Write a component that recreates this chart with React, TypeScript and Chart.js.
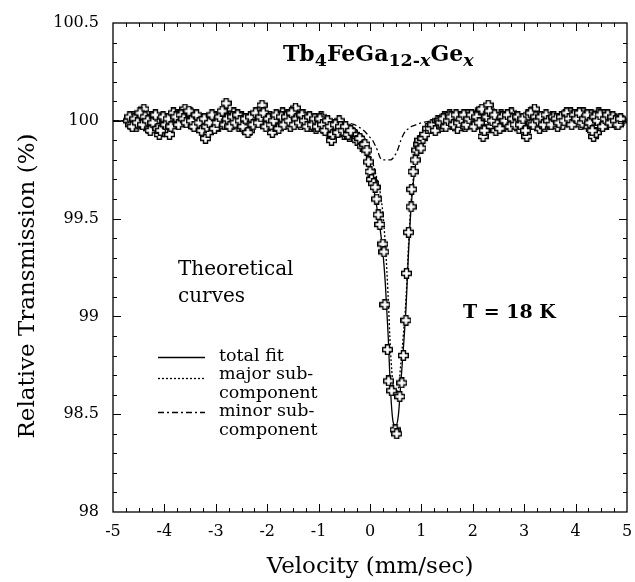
import React, { useEffect, useRef } from 'react';
import { Chart, registerables } from 'chart.js';

Chart.register(...registerables);

// Measured spectrum (velocity in mm/s, relative transmission in %)
const velocity = [
  -4.70, -4.65, -4.60, -4.55, -4.50, -4.45, -4.40, -4.35, -4.30, -4.25,
  -4.20, -4.15, -4.10, -4.05, -4.00, -3.95, -3.90, -3.85, -3.80, -3.75,
  -3.70, -3.65, -3.60, -3.55, -3.50, -3.45, -3.40, -3.35, -3.30, -3.25,
  -3.20, -3.15, -3.10, -3.05, -3.00, -2.95, -2.90, -2.85, -2.80, -2.75,
  -2.70, -2.65, -2.60, -2.55, -2.50, -2.45, -2.40, -2.35, -2.30, -2.25,
  -2.20, -2.15, -2.10, -2.05, -2.00, -1.95, -1.90, -1.85, -1.80, -1.75,
  -1.70, -1.65, -1.60, -1.55, -1.50, -1.45, -1.40, -1.35, -1.30, -1.25,
  -1.20, -1.15, -1.10, -1.05, -1.00, -0.95, -0.90, -0.85, -0.80, -0.75,
  -0.70, -0.65, -0.60, -0.55, -0.50, -0.45, -0.40, -0.35,
  -0.30, -0.25, -0.20, -0.15, -0.10, -0.06, -0.03, 0.00, 0.03, 0.07,
  0.10, 0.13, 0.16, 0.19, 0.25, 0.27, 0.29, 0.34, 0.36, 0.42,
  0.49, 0.52, 0.58, 0.62, 0.65, 0.70, 0.71, 0.75, 0.80, 0.81,
  0.84, 0.88, 0.91, 0.95, 0.97, 0.99, 1.03, 1.07, 1.12, 1.17,
  1.22, 1.27, 1.32, 1.36,
  1.40, 1.45, 1.50, 1.55, 1.60, 1.65, 1.70, 1.75, 1.80, 1.85,
  1.90, 1.95, 2.00, 2.05, 2.10, 2.15, 2.20, 2.25, 2.30, 2.35,
  2.40, 2.45, 2.50, 2.55, 2.60, 2.65, 2.70, 2.75, 2.80, 2.85,
  2.90, 2.95, 3.00, 3.05, 3.10, 3.15, 3.20, 3.25, 3.30, 3.35,
  3.40, 3.45, 3.50, 3.55, 3.60, 3.65, 3.70, 3.75, 3.80, 3.85,
  3.90, 3.95, 4.00, 4.05, 4.10, 4.15, 4.20, 4.25, 4.30, 4.35,
  4.40, 4.45, 4.50, 4.55, 4.60, 4.65, 4.70, 4.75, 4.80, 4.85,
  4.90,
];

const transmission = [
  100.00, 99.98, 100.02, 99.97, 100.01, 100.03, 100.06, 99.99, 99.96, 100.02,
  99.98, 100.00, 99.93, 99.97, 100.01, 99.98, 99.93, 100.02, 99.99, 100.03,
  100.00, 100.04, 100.06, 100.02, 100.04, 99.98, 100.01, 99.97, 100.00, 99.96,
  99.91, 99.94, 100.01, 99.98, 100.02, 99.97, 100.01, 100.03, 100.09, 100.02,
  99.98, 100.04, 100.00, 99.97, 100.02, 99.96, 99.99, 99.95, 100.02, 100.00,
  100.03, 100.05, 100.08, 100.01, 99.98, 100.02, 99.94, 99.97, 100.01, 99.98,
  100.04, 99.99, 100.03, 99.97, 100.01, 100.065, 100.02, 99.98, 100.03, 99.99,
  100.01, 99.97, 100.00, 99.96, 99.99, 100.02, 99.96, 99.98, 99.94, 99.90,
  99.97, 99.95, 100.00, 99.96, 99.93, 99.95, 99.92, 99.94,
  99.93, 99.90, 99.91, 99.87, 99.88, 99.85, 99.79, 99.74, 99.70, 99.68,
  99.66, 99.60, 99.52, 99.47, 99.37, 99.33, 99.06, 98.83, 98.67, 98.62,
  98.42, 98.40, 98.59, 98.66, 98.80, 98.98, 99.22, 99.43, 99.56, 99.65,
  99.74, 99.80, 99.85, 99.88, 99.90, 99.86, 99.91, 99.93, 99.96, 99.96,
  99.98, 99.95, 100.00, 100.00,
  99.97, 100.02, 99.99, 100.03, 99.98, 100.01, 99.96, 100.02, 100.00, 99.97,
  100.03, 99.99, 100.02, 99.98, 100.04, 100.05, 99.92, 100.03, 100.08, 99.97,
  100.01, 99.95, 100.00, 100.03, 99.97, 100.01, 99.98, 100.04, 99.99, 100.02,
  99.96, 100.00, 99.97, 99.92, 100.02, 99.99, 100.06, 100.01, 99.96, 99.99,
  99.97, 100.01, 99.98, 100.02, 100.00, 99.97, 100.01, 99.98, 100.03, 100.01,
  100.04, 100.02, 100.00, 100.03, 99.98, 100.04, 100.02, 99.97, 100.03, 99.92,
  99.94, 100.04, 100.00, 100.03, 99.98, 100.02, 99.99, 100.01, 99.98, 100.00,
  100.00,
];

// Interleaved channels of the same spectrum (baseline regions)
const velocityB = [
  -4.675, -4.625, -4.575, -4.525, -4.475, -4.425, -4.375, -4.325, -4.275, -4.225,
  -4.175, -4.125, -4.075, -4.025, -3.975, -3.925, -3.875, -3.825, -3.775, -3.725,
  -3.675, -3.625, -3.575, -3.525, -3.475, -3.425, -3.375, -3.325, -3.275, -3.225,
  -3.175, -3.125, -3.075, -3.025, -2.975, -2.925, -2.875, -2.825, -2.775, -2.725,
  -2.675, -2.625, -2.575, -2.525, -2.475, -2.425, -2.375, -2.325, -2.275, -2.225,
  -2.175, -2.125, -2.075, -2.025, -1.975, -1.925, -1.875, -1.825, -1.775, -1.725,
  -1.675, -1.625, -1.575, -1.525, -1.475, -1.425, -1.375, -1.325, -1.275, -1.225,
  -1.175, -1.125, -1.075, -1.025, -0.975, -0.925, -0.875, -0.825, -0.775, -0.725,
  -0.675, -0.625, -0.575, -0.525, -0.475, -0.425, -0.375,
  1.375, 1.425, 1.475, 1.525, 1.575, 1.625, 1.675, 1.725, 1.775, 1.825,
  1.875, 1.925, 1.975, 2.025, 2.075, 2.125, 2.175, 2.225, 2.275, 2.325,
  2.375, 2.425, 2.475, 2.525, 2.575, 2.625, 2.675, 2.725, 2.775, 2.825,
  2.875, 2.925, 2.975, 3.025, 3.075, 3.125, 3.175, 3.225, 3.275, 3.325,
  3.375, 3.425, 3.475, 3.525, 3.575, 3.625, 3.675, 3.725, 3.775, 3.825,
  3.875, 3.925, 3.975, 4.025, 4.075, 4.125, 4.175, 4.225, 4.275, 4.325,
  4.375, 4.425, 4.475, 4.525, 4.575, 4.625, 4.675, 4.725, 4.775, 4.825,
  4.875,
];

const transmissionB = [
  100.02, 99.97, 100.01, 99.99, 100.04, 99.98, 100.02, 100.00, 99.95, 99.99,
  100.03, 99.96, 99.95, 100.02, 99.98, 100.01, 99.97, 100.04, 100.02, 99.98,
  100.03, 100.01, 99.99, 100.05, 100.00, 99.97, 100.03, 99.99, 99.95, 100.01,
  99.97, 99.99, 100.03, 99.96, 99.99, 100.02, 100.05, 99.98, 100.01, 99.97,
  100.02, 99.99, 100.03, 100.00, 99.97, 100.01, 99.94, 100.02, 99.98, 100.04,
  99.99, 100.02, 100.04, 99.97, 100.01, 99.98, 100.00, 100.03, 99.96, 100.02,
  99.98, 100.02, 100.00, 100.04, 99.98, 100.01, 99.99, 100.03, 100.00, 99.97,
  100.02, 99.98, 100.01, 99.97, 100.01, 99.98, 99.95, 100.00, 99.97, 99.93,
  99.98, 99.94, 99.97, 99.95, 99.97, 99.93, 99.95,
  99.99, 100.01, 99.97, 100.00, 100.02, 99.98, 100.03, 99.99, 100.01, 100.03,
  99.98, 100.01, 100.03, 99.97, 100.02, 99.99, 100.06, 99.95, 100.02, 100.05,
  100.00, 100.03, 99.98, 99.96, 100.02, 100.00, 100.03, 99.97, 100.01, 99.98,
  100.02, 99.98, 100.01, 99.95, 100.03, 100.04, 99.98, 100.02, 100.00, 100.02,
  99.98, 100.03, 100.00, 99.98, 100.02, 100.01, 99.99, 100.02, 100.00, 100.04,
  100.01, 99.98, 100.03, 100.01, 100.04, 99.99, 100.01, 100.03, 99.99, 99.95,
  100.02, 100.00, 100.03, 99.97, 100.01, 100.03, 99.99, 100.02, 100.00, 99.98,
  100.01,
];

// Theoretical curves
const fitVelocity = [
  -5, -2, -1, -0.5, -0.3, -0.2, -0.1, 0,
  0.05, 0.1, 0.15, 0.2, 0.25, 0.3, 0.35, 0.4, 0.45, 0.5,
  0.55, 0.6, 0.65, 0.7, 0.75, 0.8, 0.85, 0.9,
  1.0, 1.1, 1.25, 1.5, 2, 5,
];
const totalFit = [
  100, 100, 99.99, 99.97, 99.94, 99.90, 99.85, 99.75,
  99.69, 99.61, 99.53, 99.44, 99.33, 99.16, 98.92, 98.62, 98.46, 98.44,
  98.49, 98.66, 98.84, 99.04, 99.33, 99.56, 99.70, 99.80,
  99.92, 99.95, 99.98, 99.99, 100, 100,
];
const majorSub = [
  100, 100, 99.99, 99.98, 99.96, 99.935, 99.91, 99.83,
  99.79, 99.74, 99.69, 99.63, 99.53, 99.36, 99.12, 98.82, 98.65, 98.61,
  98.63, 98.76, 98.91, 99.09, 99.37, 99.59, 99.725, 99.82,
  99.93, 99.955, 99.98, 99.99, 100, 100,
];
const minorSub = [
  100, 100, 100, 99.99, 99.98, 99.965, 99.945, 99.915,
  99.90, 99.875, 99.845, 99.81, 99.80, 99.80, 99.80, 99.80, 99.81, 99.83,
  99.86, 99.90, 99.93, 99.95, 99.96, 99.97, 99.975, 99.98,
  99.99, 99.995, 100, 100, 100, 100,
];

const xTickValues = [-5, -4, -3, -2, -1, 0, 1, 2, 3, 4, 5];
const yTickLabels = ['98', '98.5', '99', '99.5', '100', '100.5'];

const SERIF = '"DejaVu Serif", "Liberation Serif", serif';

const legendItems = [
  { lines: ['total fit'], dash: [] as number[] },
  { lines: ['major sub-', 'component'], dash: [2, 2] },
  { lines: ['minor sub-', 'component'], dash: [6, 3, 2, 3] },
];

function makeCross(): HTMLCanvasElement {
  const c = document.createElement('canvas');
  c.width = 11;
  c.height = 11;
  const g = c.getContext('2d')!;
  const a = 3.5, b = 7.5, lo = 0.7, hi = 10.3;
  g.beginPath();
  g.moveTo(a, lo); g.lineTo(b, lo); g.lineTo(b, a); g.lineTo(hi, a);
  g.lineTo(hi, b); g.lineTo(b, b); g.lineTo(b, hi); g.lineTo(a, hi);
  g.lineTo(a, b); g.lineTo(lo, b); g.lineTo(lo, a); g.lineTo(a, a);
  g.closePath();
  g.fillStyle = '#fff';
  g.fill();
  g.strokeStyle = '#000';
  g.lineWidth = 1.4;
  g.stroke();
  return c;
}

const decorPlugin = {
  id: 'decor',
  afterDraw(chart: any) {
    const { ctx, chartArea: a, scales } = chart;
    const x = scales.x, y = scales.y;
    ctx.save();
    ctx.strokeStyle = '#000';
    ctx.lineWidth = 1.3;
    ctx.strokeRect(a.left, a.top, a.right - a.left, a.bottom - a.top);
    ctx.lineWidth = 1;
    ctx.beginPath();
    for (let v = x.min; v <= x.max + 1e-9; v += 0.25) {
      const px = Math.round(x.getPixelForValue(v)) + 0.5;
      const major = Math.abs(v - Math.round(v)) < 1e-6;
      const len = major ? 8 : 4;
      if (v > x.min + 1e-6 && v < x.max - 1e-6) {
        ctx.moveTo(px, a.bottom); ctx.lineTo(px, a.bottom - len);
        ctx.moveTo(px, a.top); ctx.lineTo(px, a.top + len);
      }
    }
    for (let v = y.min; v <= y.max + 1e-9; v += 0.1) {
      const py = Math.round(y.getPixelForValue(v)) + 0.5;
      const major = Math.abs(v * 2 - Math.round(v * 2)) < 1e-6;
      const len = major ? 8 : 4;
      if (v > y.min + 1e-6 && v < y.max - 1e-6) {
        ctx.moveTo(a.left, py); ctx.lineTo(a.left + len, py);
        ctx.moveTo(a.right, py); ctx.lineTo(a.right - len, py);
      }
    }
    ctx.stroke();

    // Y-axis title
    ctx.fillStyle = '#000';
    ctx.save();
    ctx.translate(28, 286);
    ctx.rotate(-Math.PI / 2);
    ctx.font = `23px ${SERIF}`;
    ctx.textAlign = 'center';
    ctx.textBaseline = 'middle';
    ctx.fillText('Relative Transmission (%)', 0, 0);
    ctx.restore();

    // Title with subscripts
    ctx.textBaseline = 'alphabetic';
    ctx.textAlign = 'left';
    const segs = [
      { t: 'Tb', sub: false, it: false },
      { t: '4', sub: true, it: false },
      { t: 'FeGa', sub: false, it: false },
      { t: '12-', sub: true, it: false },
      { t: 'x', sub: true, it: true },
      { t: 'Ge', sub: false, it: false },
      { t: 'x', sub: true, it: true },
    ];
    let tx = 283;
    const ty = 61;
    for (const s of segs) {
      const size = s.sub ? 17.5 : 22;
      ctx.font = `${s.it ? 'italic ' : ''}bold ${size}px ${SERIF}`;
      ctx.fillText(s.t, tx, s.sub ? ty + 5 : ty);
      tx += ctx.measureText(s.t).width;
    }

    ctx.font = `bold 19px ${SERIF}`;
    ctx.textBaseline = 'middle';
    ctx.fillText('T = 18 K', 463, 313);

    ctx.font = `20px ${SERIF}`;
    ctx.fillText('Theoretical', 178, 270);
    ctx.fillText('curves', 178, 297);

    // Legend
    const lineY = [357, 378, 412];
    const textY = [[356], [374, 393], [411, 430]];
    ctx.font = `17.5px ${SERIF}`;
    legendItems.forEach((it, i) => {
      ctx.setLineDash(it.dash);
      ctx.lineWidth = 1.3;
      ctx.beginPath();
      ctx.moveTo(158, lineY[i] + 0.5);
      ctx.lineTo(205, lineY[i] + 0.5);
      ctx.stroke();
      ctx.setLineDash([]);
      it.lines.forEach((ln, j) => ctx.fillText(ln, 219, textY[i][j]));
    });
    ctx.restore();
  },
};

export default function App() {
  const ref = useRef<HTMLCanvasElement | null>(null);

  useEffect(() => {
    const canvas = ref.current;
    if (!canvas) return;
    const cross = makeCross();
    const pts = velocity
      .map((v, i) => ({ x: v, y: transmission[i] }))
      .concat(velocityB.map((v, i) => ({ x: v, y: transmissionB[i] })));
    const curve = (arr: number[]) => fitVelocity.map((v, i) => ({ x: v, y: arr[i] }));
    const lineDs = (label: string, arr: number[], dash: number[], order: number) => ({
      label,
      data: curve(arr),
      showLine: true,
      borderColor: '#000',
      borderWidth: 1.3,
      borderDash: dash,
      pointRadius: 0,
      cubicInterpolationMode: 'monotone' as const,
      order,
    });

    const chart = new Chart(canvas, {
      type: 'scatter',
      data: {
        datasets: [
          {
            label: 'data',
            data: pts,
            pointStyle: cross as any,
            pointRadius: 5,
            showLine: false,
            order: 0,
          },
          lineDs('total fit', totalFit, [], 1),
          lineDs('major sub-component', majorSub, [2, 2], 2),
          lineDs('minor sub-component', minorSub, [6, 3, 2, 3], 3),
        ],
      },
      options: {
        animation: false,
        responsive: false,
        devicePixelRatio: 1,
        layout: { padding: { left: 0, right: 8, top: 23, bottom: 0 } },
        plugins: { legend: { display: false }, tooltip: { enabled: false } },
        scales: {
          x: {
            type: 'linear',
            min: -5,
            max: 5,
            grid: { display: false, drawTicks: true, tickLength: 10 },
            border: { display: false },
            afterFit: (s: any) => { s.height = 70; },
            afterBuildTicks: (s: any) => { s.ticks = xTickValues.map((v) => ({ value: v })); },
            ticks: {
              autoSkip: false,
              padding: 0,
              color: '#000',
              font: { family: SERIF, size: 16 },
              callback: (v: any) => String(v),
            },
            title: {
              display: true,
              text: 'Velocity (mm/sec)',
              color: '#000',
              font: { family: SERIF, size: 23 },
              padding: { top: 0, bottom: 1 },
            },
          },
          y: {
            type: 'linear',
            min: 98,
            max: 100.5,
            grid: { display: false, drawTicks: true, tickLength: 14 },
            border: { display: false },
            afterFit: (s: any) => { s.width = 113; },
            afterBuildTicks: (s: any) => {
              s.ticks = yTickLabels.map((t) => ({ value: parseFloat(t) }));
            },
            ticks: {
              autoSkip: false,
              padding: 0,
              color: '#000',
              font: { family: SERIF, size: 16 },
              callback: (v: any) => {
                const hit = yTickLabels.find((t) => Math.abs(parseFloat(t) - v) < 1e-6);
                return hit ?? String(v);
              },
            },
            title: { display: false },
          },
        },
      },
      plugins: [decorPlugin],
    });
    return () => chart.destroy();
  }, []);

  return (
    <div style={{ position: 'fixed', left: 0, top: 0, width: 635, height: 582, background: '#fff' }}>
      <canvas ref={ref} width={635} height={582} style={{ display: 'block' }} />
    </div>
  );
}
